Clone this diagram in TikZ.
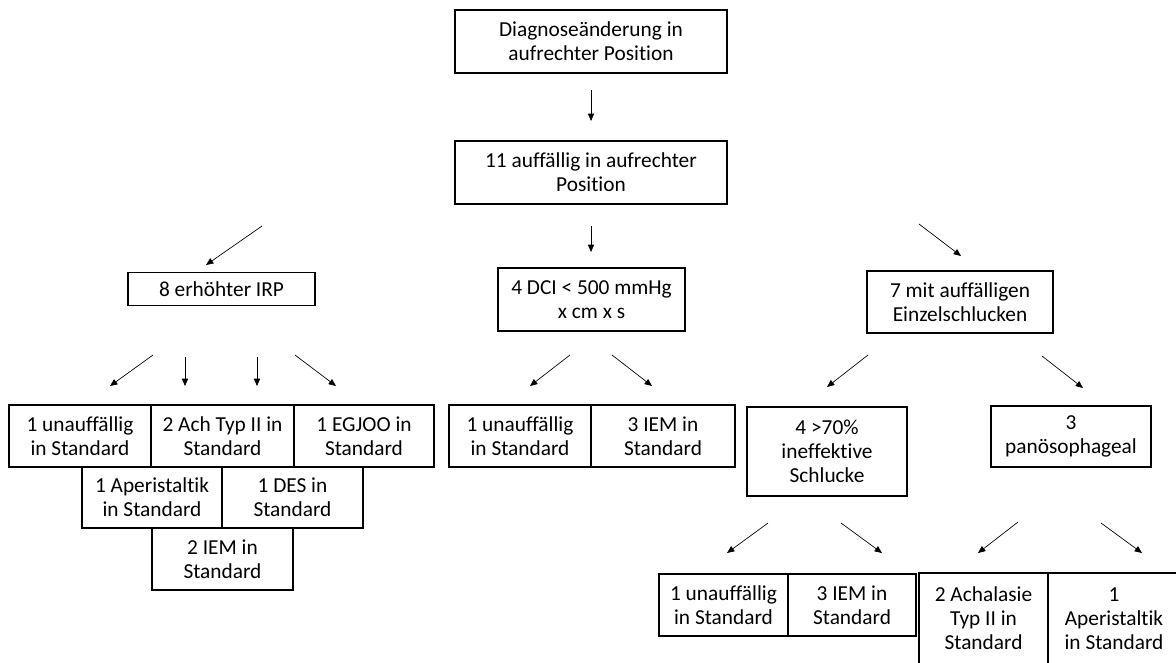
\documentclass[tikz,border=0pt]{standalone}
\usepackage{fontspec}
\setmainfont{Carlito}[Ligatures={NoCommon}]
\usetikzlibrary{arrows.meta}
\tikzset{
  box/.style={draw=black, line width=0.8pt, align=center, inner sep=0pt,
    font=\fontsize{16pt}{18pt}\selectfont},
  bw/.style={minimum width=#1*0.75pt},
  bh/.style={minimum height=#1*0.75pt},
  arr/.style={line width=0.5pt, -{Triangle[length=5.5pt,width=4.6pt]}},
}
\begin{document}
\begin{tikzpicture}[x=0.75pt,y=-0.75pt]
\clip (0,0) rectangle (1176,662);
\fill[white] (0,0) rectangle (1176,662);
% boxes
\node[box,bw=272,bh=63] (top) at (591,41.5) {Diagnoseänderung in\\aufrechter Position};
\node[box,bw=272,bh=63] (n11) at (591,172.5) {11 auffällig in aufrechter\\Position};
\node[box,bw=187,bh=33] (irp) at (221.5,289) {8 erhöhter IRP};
\node[box,bw=187,bh=63] (dci) at (591.5,299.5) {4 DCI < 500 mmHg\\x cm x s};
\node[box,bw=186,bh=62] (mit) at (960,302) {7 mit auffälligen\\Einzelschlucken};
\node[box,bw=142,bh=62] (l1) at (80,436) {1 unauffällig\\in Standard};
\node[box,bw=143,bh=62] (l2) at (222.5,436) {2 Ach Typ II in\\Standard};
\node[box,bw=140,bh=62] (l3) at (364,436) {1 EGJOO in\\Standard};
\node[box,bw=140,bh=61] (l4) at (152,497.5) {1 Aperistaltik\\in Standard};
\node[box,bw=141,bh=61] (l5) at (292.5,497.5) {1 DES in\\Standard};
\node[box,bw=141,bh=62] (l6) at (222.5,559) {2 IEM in\\Standard};
\node[box,bw=142,bh=62] (m1) at (520,436) {1 unauffällig\\in Standard};
\node[box,bw=144,bh=62] (m2) at (663,436) {3 IEM in\\Standard};
\node[box,bw=160,bh=89] (ine) at (827,451.5) {4 >70\%\\ineffektive\\Schlucke};
\node[box,bw=160,bh=61] (pan) at (1071,436.5) {3\\panösophageal};
\node[box,bw=129,bh=62] (b1) at (723.5,605) {1 unauffällig\\in Standard};
\node[box,bw=128,bh=62] (b2) at (852,605) {3 IEM in\\Standard};
\node[box,bw=129,bh=91] (b3) at (983.5,618.5) {2 Achalasie\\Typ II in\\Standard};
\node[box,bw=132,bh=91] (b4) at (1114,618.5) {1\\Aperistaltik\\in Standard};
% arrow endpoints
\coordinate (a1s) at (591,90);   \coordinate (a1e) at (591,121);
\coordinate (a2s) at (262,226);  \coordinate (a2e) at (206,265);
\coordinate (a3s) at (591,226);  \coordinate (a3e) at (591,252);
\coordinate (a4s) at (919,224);  \coordinate (a4e) at (961,256);
\coordinate (a5s) at (153,355);  \coordinate (a5e) at (110,386);
\coordinate (a6s) at (185,357);  \coordinate (a6e) at (185,386);
\coordinate (a7s) at (257,357);  \coordinate (a7e) at (257,386);
\coordinate (a8s) at (295,355);  \coordinate (a8e) at (336,386);
\coordinate (a9s) at (570,355);  \coordinate (a9e) at (530,386);
\coordinate (a10s) at (612,355); \coordinate (a10e) at (652,386);
\coordinate (a11s) at (868,355); \coordinate (a11e) at (827,387);
\coordinate (a12s) at (1042,356); \coordinate (a12e) at (1083,388);
\coordinate (a13s) at (768,523); \coordinate (a13e) at (727,553);
\coordinate (a14s) at (841,523); \coordinate (a14e) at (882,553);
\coordinate (a15s) at (1018,522); \coordinate (a15e) at (978,553);
\coordinate (a16s) at (1101,523); \coordinate (a16e) at (1142,553);
\foreach \i in {1,...,16} \draw[arr] (a\i s) -- (a\i e);
\end{tikzpicture}
\end{document}
